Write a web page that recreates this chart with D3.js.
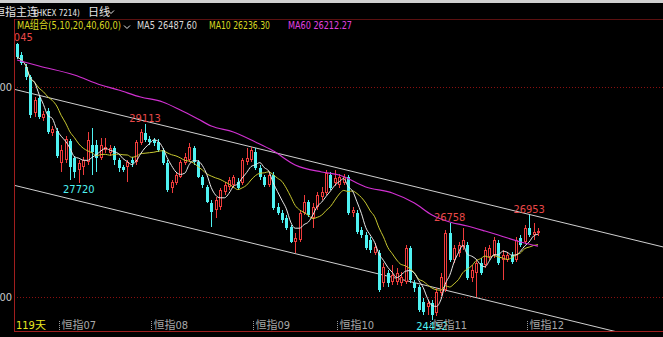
<!DOCTYPE html>
<html>
<head>
<meta charset="utf-8">
<script src="https://cdn.jsdelivr.net/npm/d3@7"></script>
<style>
  html, body { margin: 0; padding: 0; background: #000; }
  svg { display: block; }
  text { font-family: "Liberation Sans Narrow", "DejaVu Sans Condensed", "Noto Sans CJK SC", sans-serif; }
</style>
</head>
<body>
<svg id="chart"></svg>
<script>
// daily bars, HSI futures (119 days)
const opens = [31024,30762,30476,30238,29381,29738,29262,29429,28905,28952,28190,28262,28714,28310,28024,28095,28214,28619,28619,28310,
  28500,28429,28548,28262,28095,28095,28262,28214,28667,28905,28762,28738,28690,28500,28190,27595,27714,27857,28190,28262,
  28548,28214,27857,27619,27238,27071,27143,27500,27619,27667,27738,27714,28214,28262,28452,28071,27857,27667,27905,27143,
  27000,26881,26667,26310,26357,27000,27262,26881,27143,27381,27476,27905,27714,27667,27714,27857,27000,27000,26595,26476,
  26357,26048,26048,25333,25571,25357,25357,25333,25357,26167,25333,25238,24881,24762,24857,24619,25095,25167,26524,25881,
  26048,26190,26238,25452,25571,25810,25762,25952,26000,26286,25881,25881,26000,25881,26405,26310,26643,26476,26524];
const highs = [31045,30833,30548,30286,29762,29786,29429,29500,29071,29024,28619,28833,28762,28357,28262,28333,28929,29024,28738,28786,
  28786,28619,28595,28310,28143,28262,28333,28738,29000,29113,28833,28786,28762,28548,28262,27786,27976,28262,28429,28667,
  28595,28262,27905,27667,27310,27381,27595,27738,27857,27905,27833,28310,28548,28571,28548,28143,27905,27976,27976,27238,
  27071,26952,26714,26524,27071,27429,27310,27238,27500,27619,28024,27976,28024,27929,27929,27905,27143,27071,26667,26548,
  26429,26286,26119,25810,25643,25762,25690,25595,26238,26214,25405,25286,24976,24929,24929,25214,25571,26595,26758,26238,
  26310,26643,26310,25762,25881,25929,26190,26238,26429,26357,26119,26071,26071,26429,26476,26714,26953,26762,26643];
const lows = [30670,30524,30167,29262,29286,29238,29190,28881,28833,28310,27976,28190,27786,27833,27720,27905,28143,27905,27976,28262,
  28429,28357,28143,27976,27976,27738,28095,28143,28619,28690,28619,28595,28452,28143,27500,27476,27667,27833,28143,28214,
  28143,27833,27595,27238,26667,26881,27071,27429,27548,27595,27548,27667,28143,28214,28024,27786,27619,27619,27071,26952,
  26762,26595,26286,26048,26310,26952,26905,26643,27071,27310,27429,27548,27643,27595,27667,26952,26905,26500,26405,26119,
  26048,26000,25119,25238,25238,25286,25286,25262,25310,25333,25119,24643,24571,24571,24452,24548,25024,25119,25833,25810,
  25952,26119,25405,25357,25000,25524,25690,25881,25929,25762,25405,25833,25786,25833,26190,26262,26429,26357,26452];
const closes = [30714,30571,30238,29333,29690,29286,29357,28929,29000,28357,28500,28762,28095,27976,28190,28262,28738,28452,28310,28619,
  28571,28548,28262,28071,28024,28214,28190,28690,28929,28738,28690,28667,28500,28190,27548,27738,27905,28214,28333,28571,
  28214,27857,27667,27262,27024,27310,27548,27667,27786,27857,27595,28262,28310,28500,28071,27857,27667,27905,27119,27000,
  26833,26643,26310,26405,27000,27262,26952,27143,27429,27500,27952,27595,27833,27857,27857,27000,27071,26548,26476,26167,
  26119,26190,25167,25714,25333,25524,25571,25476,26167,25405,25214,24690,24643,24857,24571,25119,25476,26524,25881,26167,
  26238,26357,25452,25643,25810,25571,26119,26167,26357,25810,26000,26000,25833,26357,26238,26643,26476,26548,26571];

// MA60 (bar index, value)
const ma60Idx = [0, 5, 13, 19, 23, 28, 33, 37, 41, 44, 49, 54, 58, 63, 69, 73, 79, 85, 90, 94, 98, 102, 106, 109, 114, 118];
const ma60Val = [30643, 30500, 30286, 30048, 29929, 29762, 29643, 29452, 29238, 29071, 28929, 28690, 28480, 28143, 27976, 27905,
  27619, 27476, 27238, 26952, 26786, 26690, 26571, 26476, 26310, 26212];

// channel lines drawn on the chart (bar index, price)
const upperLine = [[0, 29929], [146, 26200]];
const lowerLine = [[0, 27643], [140, 24064]];

const gridPrices = [30000, 25000];
const monthLabels = ["恒指07", "恒指08", "恒指09", "恒指10", "恒指11", "恒指12"];
const monthStart = [9, 30, 53, 72, 93, 115];

const legendItems = [
  { text: "MA5 26487.60", color: "#d8d8d8", x: 137, w: 60 },
  { text: "MA10 26236.30", color: "#d8d820", x: 209, w: 61 },
  { text: "MA60 26212.27", color: "#e040e0", x: 288, w: 64 }
];

const peakLabels = [
  { i: 0, v: 31045, up: true },
  { i: 29, v: 29113, up: true },
  { i: 14, v: 27720, up: false },
  { i: 98, v: 26758, up: true },
  { i: 116, v: 26953, up: true },
  { i: 94, v: 24452, up: false }
];

const W = 663, H = 337;
const RED = "#f03c3c", CYAN = "#4ff2f2", AXIS = "#a01e1e";

const svg = d3.select("#chart").attr("width", W).attr("height", H);
svg.append("rect").attr("width", W).attr("height", H).attr("fill", "#000");

const xScale = d3.scaleLinear().domain([0, 118]).range([17, 538]);
const yScale = d3.scaleLinear().domain([25000, 30000]).range([297, 87]);
const cx = i => Math.round(xScale(i)) + 0.5;

// top strip + header
svg.append("rect").attr("width", W).attr("height", 3).attr("fill", "#cfcfcf");
svg.append("text").attr("x", -6).attr("y", 16).attr("fill", "#e6e6e6").attr("font-size", 11)
  .text("恒指主连");
svg.append("text").attr("x", 34).attr("y", 16).attr("fill", "#e6e6e6").attr("font-size", 8)
  .text("(HKEX 7214)");
svg.append("text").attr("x", 88).attr("y", 16).attr("fill", "#e6e6e6").attr("font-size", 11)
  .text("日线");
svg.append("path").attr("d", "M108,10.5 L111,13.5 L114,10.5").attr("fill", "none").attr("stroke", "#e6e6e6");

svg.append("line").attr("x1", 14).attr("x2", W).attr("y1", 19.5).attr("y2", 19.5).attr("stroke", "#5a1010");

// MA legend row
const legend = svg.append("g").attr("font-size", 11);
legend.append("text").attr("x", 17).attr("y", 29).attr("fill", "#d8d820")
  .attr("textLength", 104).attr("lengthAdjust", "spacingAndGlyphs").text("MA组合(5,10,20,40,60,0)");
legend.append("path").attr("d", "M124,25.5 L127,28.5 L130,25.5").attr("fill", "none").attr("stroke", "#e6e6e6");
legend.selectAll(".lg").data(legendItems).join("text")
  .attr("x", d => d.x).attr("y", 29).attr("fill", d => d.color)
  .attr("textLength", d => d.w).attr("lengthAdjust", "spacingAndGlyphs").text(d => d.text);

// moving averages from closes
function movingAvg(n) {
  return closes.map((c, i) => {
    const win = closes.slice(Math.max(0, i - n + 1), i + 1);
    return d3.mean(win);
  });
}
const ma5 = movingAvg(5), ma10 = movingAvg(10);

// y axis labels (left edge is cut)
svg.selectAll(".ylab").data(gridPrices).join("text")
  .attr("x", 12).attr("y", d => yScale(d) + 4).attr("text-anchor", "end")
  .attr("fill", "#c8c8c8").attr("font-size", 11).text(d => d);

// plot area
svg.append("clipPath").attr("id", "plot").append("rect")
  .attr("x", 15).attr("y", 20).attr("width", W - 15).attr("height", 311);
const plot = svg.append("g").attr("clip-path", "url(#plot)");

plot.selectAll(".grid").data(gridPrices).join("line")
  .attr("x1", 14).attr("x2", W)
  .attr("y1", d => Math.round(yScale(d)) + 0.5).attr("y2", d => Math.round(yScale(d)) + 0.5)
  .attr("stroke", "#8a1010").attr("stroke-dasharray", "1,2");

// channel lines
const trend = d3.line().x(d => xScale(d[0])).y(d => yScale(d[1]));
[upperLine, lowerLine].forEach(seg => {
  const k = (seg[1][1] - seg[0][1]) / (seg[1][0] - seg[0][0]);
  const ext = [[-2, seg[0][1] - 2 * k], [160, seg[0][1] + 160 * k]];
  plot.append("path").attr("d", trend(ext)).attr("fill", "none").attr("stroke", "#d0d0d0").attr("stroke-width", 1);
});

// candles
const bars = closes.map((c, i) => ({ i, o: opens[i], h: highs[i], l: lows[i], c }));
const cg = plot.append("g");
bars.forEach(d => {
  const x = cx(d.i);
  const yTop = Math.round(yScale(Math.max(d.o, d.c)));
  const yBot = Math.round(yScale(Math.min(d.o, d.c)));
  const yH = Math.round(yScale(d.h)), yL = Math.round(yScale(d.l));
  if (d.c >= d.o) {
    cg.append("line").attr("x1", x).attr("x2", x).attr("y1", yH).attr("y2", yTop).attr("stroke", RED);
    cg.append("line").attr("x1", x).attr("x2", x).attr("y1", yBot).attr("y2", yL).attr("stroke", RED);
    cg.append("rect").attr("x", x - 1).attr("y", yTop + 0.5).attr("width", 2)
      .attr("height", Math.max(1, yBot - yTop - 1)).attr("fill", "#000").attr("stroke", RED);
  } else {
    cg.append("line").attr("x1", x).attr("x2", x).attr("y1", yH).attr("y2", yL).attr("stroke", CYAN);
    cg.append("rect").attr("x", x - 1.5).attr("y", yTop).attr("width", 3)
      .attr("height", Math.max(1, yBot - yTop)).attr("fill", CYAN);
  }
});

// MA lines
const maLine = d3.line().x((d, i) => xScale(i)).y(d => yScale(d)).curve(d3.curveMonotoneX);
plot.append("path").datum(ma10).attr("d", maLine).attr("fill", "none").attr("stroke", "#c8c830").attr("stroke-width", 1);
plot.append("path").datum(ma5).attr("d", maLine).attr("fill", "none").attr("stroke", "#e8e8e8").attr("stroke-width", 1);
const ma60Line = d3.line().x(d => xScale(d[0])).y(d => yScale(d[1])).curve(d3.curveMonotoneX);
plot.append("path").datum(ma60Idx.map((k, j) => [k, ma60Val[j]])).attr("d", ma60Line)
  .attr("fill", "none").attr("stroke", "#d030d0").attr("stroke-width", 1.2);

// peak / trough labels
plot.selectAll(".peak").data(peakLabels).join("text")
  .attr("x", d => xScale(d.i)).attr("y", d => d.up ? yScale(d.v) - 2 : yScale(d.v) + 10)
  .attr("text-anchor", "middle").attr("font-size", 11)
  .attr("fill", d => d.up ? "#e84848" : CYAN).text(d => d.v);

// bottom axis
svg.append("line").attr("x1", 14.5).attr("x2", 14.5).attr("y1", 19).attr("y2", 332).attr("stroke", AXIS);
svg.append("line").attr("x1", 14).attr("x2", W).attr("y1", 331.5).attr("y2", 331.5).attr("stroke", AXIS);

svg.append("text").attr("x", 16).attr("y", 329).attr("fill", "#e8e820").attr("font-size", 11).text(closes.length + "天");
const mg = svg.append("g");
monthStart.forEach((k, j) => {
  const x = cx(k) + 2;
  mg.append("line").attr("x1", x).attr("x2", x).attr("y1", 321).attr("y2", 330)
    .attr("stroke", "#9a9a9a").attr("stroke-dasharray", "1,1");
  mg.append("text").attr("x", x + 2).attr("y", 329).attr("fill", "#a8a8a8").attr("font-size", 11).text(monthLabels[j]);
});
</script>
</body>
</html>
